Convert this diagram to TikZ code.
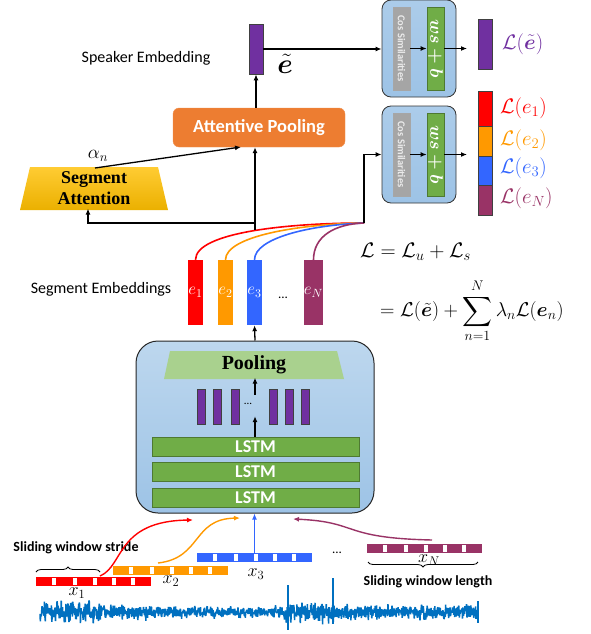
\RequirePackage{fix-cm}
\documentclass[tikz,border=0pt]{standalone}
\usepackage{amsmath,bm}
\usepackage{fontspec}
\newfontfamily\calib{Carlito}
\newfontfamily\tms{Liberation Serif}
\usetikzlibrary{arrows.meta,decorations.pathreplacing,calc}
\definecolor{cpurple}{HTML}{7030A0}
\definecolor{cred}{HTML}{FF0000}
\definecolor{corange}{HTML}{FF9900}
\definecolor{cblue}{HTML}{3366FF}
\definecolor{cmaroon}{HTML}{993366}
\definecolor{apool}{HTML}{ED7D31}
\definecolor{goldA}{HTML}{FFCC33}
\definecolor{goldB}{HTML}{EBB000}
\definecolor{lblueA}{HTML}{BDD7EE}
\definecolor{lblueB}{HTML}{9DC3E6}
\definecolor{lgreen}{HTML}{70AD47}
\definecolor{pgreen}{HTML}{A9D18E}
\definecolor{cgray}{HTML}{A5A5A5}
\definecolor{wave}{HTML}{0070C0}
\begin{document}
\begin{tikzpicture}[x=1pt,y=-1pt,
  arr/.style={-{Latex[length=6pt,width=5pt]}, line width=1.3pt},
  carr/.style={-{Latex[length=6pt,width=5pt]}, line width=1.4pt},
  cln/.style={line width=1.6pt},
  vbar/.style={draw=black!75, line width=0.7pt, inner sep=0pt, minimum width=14pt},
  ebar/.style={inner sep=0pt, minimum width=15pt, minimum height=65pt, text=white, font=\fontsize{17}{18}\selectfont},
  simbox/.style={rounded corners=9pt, draw=black!80, line width=0.8pt, top color=lblueB!85!white, bottom color=lblueB, minimum width=74pt, minimum height=97pt},
  graybox/.style={fill=cgray, draw=black!35, line width=0.6pt, minimum width=17pt, minimum height=83pt, inner sep=0pt},
  greenbox/.style={fill=lgreen, draw=lgreen!70!black, line width=0.6pt, minimum width=17pt, minimum height=83pt, inner sep=0pt},
  costxt/.style={rotate=-90, text=white!92!black, font=\calib\bfseries\fontsize{10.5}{11}\selectfont},
  wstxt/.style={rotate=-90, text=white, font=\fontsize{18}{19}\selectfont},
  sans/.style={font=\calib\fontsize{16}{18}\selectfont},
  lstm/.style={fill=lgreen, draw=lgreen!70!black, line width=0.6pt, minimum width=207pt, minimum height=19pt, inner sep=0pt, text=white, font=\calib\bfseries\fontsize{18}{19}\selectfont},
  sbar/.style={fill=cpurple, draw=black!75, line width=0.6pt, minimum width=8pt, minimum height=35pt, inner sep=0pt},
  win/.style={minimum width=115pt, minimum height=9pt, inner sep=0pt},
  lab/.style={font=\fontsize{21}{22}\selectfont, inner sep=0pt, anchor=west},
  xlab/.style={font=\fontsize{18}{19}\selectfont, inner sep=0pt},
  bold/.style={font=\calib\bfseries\fontsize{14}{16}\selectfont}
]
\useasboundingbox (0,0) rectangle (591,634);

% ---------- speaker embedding ----------
\node[sans] (spktxt) at (146,58) {Speaker Embedding};
\node[vbar, fill=cpurple, minimum height=50pt] (spk) at (256,49) {};
\node[font=\fontsize{28}{30}\selectfont, inner sep=0pt] (etl) at (285,64) {$\tilde{\bm e}$};

% ---------- similarity boxes ----------
\node[simbox] (c1) at (419,48.5) {};
\node[graybox] (g1) at (401.5,48.5) {};
\node[costxt] at (g1) {Cos Similarities};
\node[greenbox] (w1) at (435.5,48.5) {};
\node[wstxt] at (w1) {$\bm{ws+b}$};

\node[simbox] (c2) at (419,154.5) {};
\node[graybox] (g2) at (401.5,154.5) {};
\node[costxt] at (g2) {Cos Similarities};
\node[greenbox] (w2) at (435.5,154.5) {};
\node[wstxt] at (w2) {$\bm{ws+b}$};

\draw[arr] (g1.east) -- (w1.west);
\draw[arr] (g2.east) -- (w2.west);
\coordinate (o1) at (467,48.5);
\coordinate (o2) at (467,154.5);
\draw[arr] (w1.east) -- (o1);
\draw[arr] (w2.east) -- (o2);

% ---------- output bars ----------
\node[vbar, fill=cpurple, minimum height=50pt] (ot) at (485,44) {};
\node[lab, text=cpurple] (lt) at (502,44) {$\mathcal{L}(\tilde{\bm e})$};
\node[vbar, fill=cred, minimum height=35pt] (o1b) at (485,108.5) {};
\node[vbar, fill=corange, minimum height=30pt] (o2b) at (485,141) {};
\node[vbar, fill=cblue, minimum height=29pt] (o3b) at (485,170.5) {};
\node[vbar, fill=cmaroon, minimum height=30pt] (o4b) at (485,200) {};
\node[lab, text=cred] (l1) at (500,108) {$\mathcal{L}(e_1)$};
\node[lab, text=corange] (l2) at (500,140) {$\mathcal{L}(e_2)$};
\node[lab, text=cblue] (l3) at (500,168) {$\mathcal{L}(e_3)$};
\node[lab, text=cmaroon] (l4) at (500,198) {$\mathcal{L}(e_N)$};

% ---------- attentive pooling ----------
\node[rounded corners=6pt, fill=apool, draw=apool!85!white, minimum width=172pt, minimum height=39pt,
      text=white, font=\calib\bfseries\fontsize{18.5}{20}\selectfont] (ap) at (259,127.5) {Attentive Pooling};
\draw[arr] (spk.south |- ap.north) -- (spk.south);
\draw[arr] (spk.east) -- (spk.east -| c1.west);

% ---------- segment attention ----------
\shade[top color=goldA, bottom color=goldB] (30,167) -- (158,167) -- (168,210) -- (20,210) -- cycle;
\node[align=center, font=\tms\bfseries\fontsize{18}{21}\selectfont] (sa) at (94,188.5) {Segment\\Attention};
\coordinate (satop) at (95,168);
\coordinate (apin) at (241,147);
\draw[arr] (satop) -- (apin);
\node[font=\fontsize{19}{20}\selectfont, inner sep=0pt] (alpha) at (98,156) {$\alpha_n$};

% ---------- segment embeddings ----------
\node[sans] (segtxt) at (101,289) {Segment Embeddings};
\node[ebar, fill=cred] (e1) at (195.5,292.5) {$e_1$};
\node[ebar, fill=corange] (e2) at (225.5,292.5) {$e_2$};
\node[ebar, fill=cblue] (e3) at (254.5,292.5) {$e_3$};
\node[ebar, fill=cmaroon] (eN) at (313.5,292.5) {$e_N$};
\node[font=\calib\fontsize{13}{14}\selectfont] (edots) at (283,298) {...};

\coordinate (m) at (364,223);
\draw[cln, cred] (e1.north) .. controls (195.5,232) and (290,223) .. (m);
\draw[cln, corange] (e2.north) .. controls (225.5,236) and (300,224) .. (m);
\draw[cln, cblue] (e3.north) .. controls (254.5,238) and (310,225) .. (m);
\draw[cln, cmaroon] (eN.north) .. controls (313.5,236) and (335,224) .. (m);

% connectors from merge
\coordinate (j) at (255,223);
\coordinate (jb) at (255,230);
\draw[arr] (jb) -- (j |- ap.south);
\draw[arr] (j) -| ($(sa.south)+(-6,0)$);
\draw[arr] (m) |- (c2.west);

% ---------- equation ----------
\node[anchor=west, inner sep=0pt, font=\fontsize{21}{22}\selectfont] (eq1) at (360,252) {$\mathcal{L}=\mathcal{L}_u+\mathcal{L}_s$};
\node[anchor=west, inner sep=0pt, font=\fontsize{20}{21}\selectfont] (eq2) at (380,311) {$\displaystyle =\mathcal{L}(\tilde{\bm e})+\sum_{n=1}^{N}\lambda_n\mathcal{L}(\bm e_n)$};

% ---------- LSTM block ----------
\node[rounded corners=22pt, draw=black!85, line width=1pt, top color=lblueA, bottom color=lblueB,
      minimum width=238pt, minimum height=172pt] (lb) at (255,427) {};
\draw[arr] (lb.north) -- (e3.south);
\fill[pgreen] (170,351) -- (337,351) -- (344,379) -- (164,379) -- cycle;
\node[font=\tms\bfseries\fontsize{20}{22}\selectfont] (pool) at (254,365) {Pooling};
\node[sbar] (s1) at (201,406.5) {};
\node[sbar] (s2) at (217,406.5) {};
\node[sbar] (s3) at (235,406.5) {};
\node[sbar] (s4) at (273,406.5) {};
\node[sbar] (s5) at (289,406.5) {};
\node[sbar] (s6) at (305,406.5) {};
\node[font=\calib\fontsize{11}{12}\selectfont] (sdots) at (248,404) {...};
\node[minimum height=21pt, minimum width=2pt, inner sep=0pt] (mid) at (255,405.5) {};
\node[lstm] (L3) at (255.5,446.5) {LSTM};
\node[lstm] (L2) at (255.5,471.5) {LSTM};
\node[lstm] (L1) at (255.5,497.5) {LSTM};
\draw[arr] (L3.north -| mid) -- (mid.south);
\draw[arr] (mid.north) -- (mid |- pool.south);

% ---------- windows ----------
\node[win, fill=cred] (x1) at (93.5,581.5) {};
\node[win, fill=corange] (x2) at (170.5,570.5) {};
\node[win, fill=cblue] (x3) at (254.5,557.5) {};
\node[win, fill=cmaroon] (xN) at (424.5,548.5) {};
\foreach \w in {x1,x2,x3,xN}{
  \foreach \d in {16,37,57,76,95}{
    \fill[white] ($(\w.west)+(\d,-3.2)$) rectangle ++(4,6.4);
  }
}
\node[xlab] (x1l) at (77,593) {$x_1$};
\node[xlab] (x2l) at (171,581) {$x_2$};
\node[xlab] (x3l) at (256,574) {$x_3$};
\node[xlab] (xNl) at (429,560) {$x_N$};
\node[font=\calib\fontsize{13}{14}\selectfont] (wdots) at (337,553) {...};

\draw[decorate, decoration={brace, amplitude=5pt}, line width=0.8pt] (36,572) -- (100,572);
\draw[decorate, decoration={brace, amplitude=5pt}, line width=0.8pt] (478,562) -- (368,562);
\node[bold] (stride) at (76,548) {Sliding window stride};
\node[bold] (length) at (428,582) {Sliding window length};

% ---------- arrows into LSTM block ----------
\coordinate (rs) at (100,576);
\coordinate (rt) at (193,520);
\coordinate (os) at (158,563);
\coordinate (ot2) at (240,518);
\coordinate (ms) at (432,540);
\coordinate (mt) at (293,519);
\draw[carr, cred] (rs) .. controls (124,566) and (116,521) .. (rt);
\draw[carr, corange] (os) .. controls (202,558) and (192,519) .. (ot2);
\draw[carr, cblue] (x3.north) -- (x3.north |- lb.south);
\draw[carr, cmaroon] (ms) .. controls (340,538) and (360,522) .. (mt);

% ---------- waveform ----------
\pgfmathsetseed{7}
\draw[wave, line width=1.5pt, line join=bevel]
  plot[domain=40:478, samples=1300, variable=\x]
  (\x, {612 + rand*(0.35+0.65*rnd)*(9 + 4*(\x<100) + 4*and(\x>286,\x<335) - 2*(\x>150)*(\x<280))});
\draw[wave, line width=1.5pt] (288,585) -- (288,630);
\draw[wave, line width=1.5pt] (333,578) -- (333,624);
\draw[wave, line width=1.5pt] (478,601) -- (478,623);
\end{tikzpicture}
\end{document}
